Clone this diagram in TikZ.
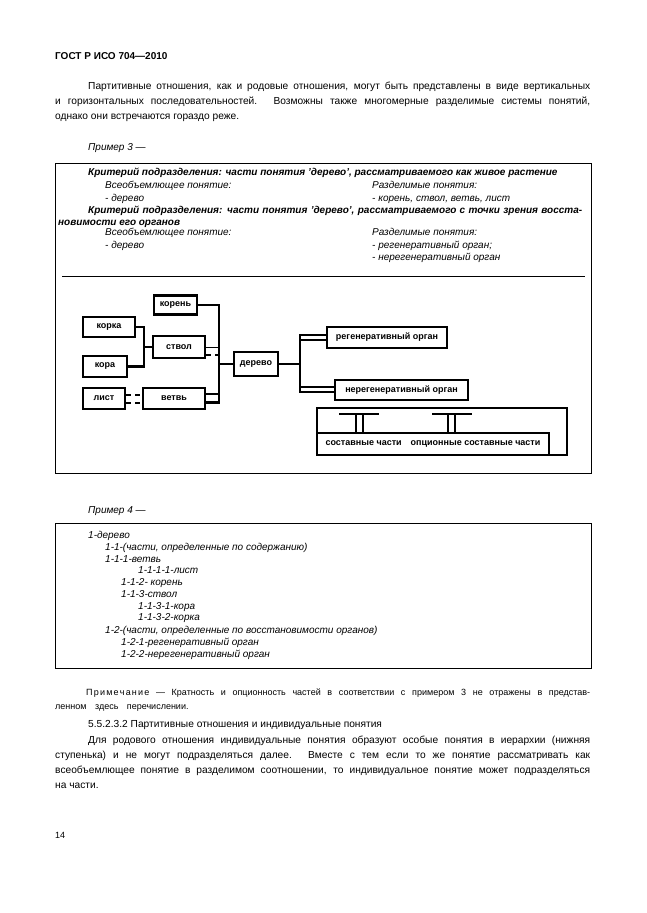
\documentclass[tikz,border=0pt]{standalone}
\usepackage{fontspec}
\setmainfont{Liberation Sans}
\newcommand\jline[2]{\makebox[#1][s]{#2}}

\begin{document}
\begin{tikzpicture}[x=1pt,y=-1pt,
    txt/.style={anchor=base west, inner sep=0pt, font=\fontsize{10.2}{12}\selectfont},
    note/.style={txt, font=\fontsize{9}{11}\selectfont},
    ex/.style={txt, font=\fontsize{10}{11}\selectfont\itshape},
    exb/.style={txt, font=\fontsize{10}{11}\selectfont\bfseries\itshape},
    part/.style={draw, line width=2.2pt, inner sep=0pt, font=\fontsize{9}{10}\selectfont\bfseries},
    link/.style={line width=2.2pt},
    thinlink/.style={line width=1pt},
    dashlink/.style={line width=1.6pt, dash pattern=on 5pt off 4pt},
    frame/.style={line width=0.8pt}]

    \useasboundingbox[fill=white] (0,0) rectangle (646,913);

    % header and first paragraph
    \node[txt, font=\fontsize{10}{12}\selectfont\bfseries] (title) at (55,59) {ГОСТ Р ИСО 704—2010};
    \node[txt] (p1a) at (88,89.5) {\jline{502pt}{Партитивные отношения, как и родовые отношения,  могут  быть  представлены в виде вертикальных}};
    \node[txt] (p1b) at (55,104.5) {\jline{535pt}{и горизонтальных последовательностей.  Возможны  также  многомерные разделимые системы понятий,}};
    \node[txt] (p1c) at (55,119.5) {однако они встречаются гораздо реже.};

    % example 3
    \node[ex] (ex3) at (88,150.5) {Пример 3 —};
    \draw[frame] (55,163) rectangle (591,473);
    \node[exb] (c1) at (88,175.5) {Критерий подразделения: части понятия 'дерево', рассматриваемого как  живое растение};
    \node[ex] (c1a) at (105,188) {Всеобъемлющее понятие:};
    \node[ex] (c1b) at (372,188) {Разделимые понятия:};
    \node[ex] (c1c) at (105,201) {- дерево};
    \node[ex] (c1d) at (372,201) {- корень, ствол, ветвь, лист};
    \node[exb] (c2) at (88,213.5) {\jline{494pt}{Критерий подразделения: части понятия 'дерево', рассматриваемого с точки зрения восста-}};
    \node[exb] (c2x) at (58,225.5) {новимости его органов};
    \node[ex] (c2a) at (105,235.5) {Всеобъемлющее понятие:};
    \node[ex] (c2b) at (372,235.5) {Разделимые понятия:};
    \node[ex] (c2c) at (105,248.5) {- дерево};
    \node[ex] (c2d) at (372,248.5) {- регенеративный орган;};
    \node[ex] (c2e) at (372,260.5) {- нерегенеративный орган};
    \draw[frame] (62,276) -- (585,276);

    % part tree
    \node[part, minimum width=43, minimum height=19] (koren) at (175.5,305) {корень};
    \node[part, minimum width=52, minimum height=20] (korka) at (109,327) {корка};
    \node[part, minimum width=52, minimum height=22] (stvol) at (179,347) {ствол};
    \node[part, minimum width=44, minimum height=21] (kora) at (105,366.5) {кора};
    \node[part, minimum width=42, minimum height=21] (list) at (104,398.5) {лист};
    \node[part, minimum width=62, minimum height=21] (vetv) at (174,398.5) {ветвь};
    \node[part, minimum width=44, minimum height=24] (derevo) at (256,364) {дерево};
    \node[part, minimum width=120, minimum height=21] (regen) at (387,337.5) {регенеративный орган};
    \node[part, minimum width=133, minimum height=20] (neregen) at (401.5,390) {нерегенеративный орган};
    \node[part, minimum width=250, minimum height=47] (parts) at (442,431.5) {};
    \node[part, minimum width=232, minimum height=22] (sost) at (433,444) {составные части\hspace{9pt}опционные составные части};

    \coordinate (tr) at (219,364);
    \coordinate (kk) at (144,347);
    \coordinate (rj) at (300,364);

    \draw[link] (korka.east) -| (kk) -- (stvol.west);
    \draw[link] (kora.east) -| (kk);
    \draw[link] (koren.east) -| (tr) -- (derevo.west);
    \coordinate (vt1) at ([yshift=4.5pt]vetv.east);
    \coordinate (vt2) at ([yshift=-4pt]vetv.east);
    \draw[link] (vt2) -| (tr);
    \draw[link] (vt1) -- (vt1 -| tr);
    \draw[thinlink] (stvol.east) -- (stvol.east -| tr);
    \coordinate (st2) at ([yshift=-8pt]stvol.east);
    \draw[dashlink] (st2) -- (st2 -| tr);
    \draw[dashlink] ([yshift=3.5pt]list.east) -- ([yshift=3.5pt]vetv.west);
    \draw[dashlink] ([yshift=-4.5pt]list.east) -- ([yshift=-4.5pt]vetv.west);

    \coordinate (r1) at ([yshift=2.5pt]regen.west);
    \coordinate (r2) at ([yshift=-2.5pt]regen.west);
    \coordinate (n1) at ([yshift=3pt]neregen.west);
    \coordinate (n2) at ([yshift=-2pt]neregen.west);
    \draw[link] (derevo.east) -- (rj);
    \draw[link] (r1) -| (n2 -| rj) -- (n2);
    \draw[link] (r2) -- (r2 -| rj);
    \draw[link] (n1) -- (n1 -| rj);

    % multiplicity bars
    \draw[link] (339,414) -- (379,414);
    \draw[link] (432,414) -- (472,414);
    \foreach \xv in {356,363,448,455}
        \draw[link] (\xv,414) -- (\xv,414 |- sost.north);

    % example 4
    \node[ex] (ex4) at (88,513.5) {Пример 4 —};
    \draw[frame] (55,523) rectangle (591,668);
    \node[ex] (e1) at (88,538.5) {1-дерево};
    \node[ex] (e2) at (105,550.5) {1-1-(части, определенные по содержанию)};
    \node[ex] (e3) at (105,562.5) {1-1-1-ветвь};
    \node[ex] (e4) at (138,573.5) {1-1-1-1-лист};
    \node[ex] (e5) at (121,585.5) {1-1-2- корень};
    \node[ex] (e6) at (121,597.5) {1-1-3-ствол};
    \node[ex] (e7) at (138,609.5) {1-1-3-1-кора};
    \node[ex] (e8) at (138,620.5) {1-1-3-2-корка};
    \node[ex] (e9) at (105,633.5) {1-2-(части, определенные по восстановимости органов)};
    \node[ex] (e10) at (121,645.5) {1-2-1-регенеративный орган};
    \node[ex] (e11) at (121,657.5) {1-2-2-нерегенеративный орган};

    % note and next clause
    \node[note] (n1a) at (86,695) {\jline{504pt}{П\kern1.2pt р\kern1.2pt и\kern1.2pt м\kern1.2pt е\kern1.2pt ч\kern1.2pt а\kern1.2pt н\kern1.2pt и\kern1.2pt е — Кратность и опционность частей в соответствии с примером 3 не отражены в представ-}};
    \node[note] (n1b) at (55,709) {ленном\hspace{6pt} здесь\hspace{6pt} перечислении.};
    \node[txt] (s1) at (88,727.5) {5.5.2.3.2 Партитивные отношения и индивидуальные понятия};
    \node[txt] (s2) at (88,743.5) {\jline{502pt}{Для родового отношения индивидуальные понятия образуют особые понятия в иерархии (нижняя}};
    \node[txt] (s3) at (55,758.5) {\jline{535pt}{ступенька) и не могут подразделяться  далее.  Вместе с тем  если  то же понятие рассматривать как}};
    \node[txt] (s4) at (55,773.5) {\jline{535pt}{всеобъемлющее понятие в разделимом соотношении, то индивидуальное понятие может подразделяться}};
    \node[txt] (s5) at (55,788.5) {на части.};
    \node[note] (page) at (55,838.5) {14};
\end{tikzpicture}
\end{document}
